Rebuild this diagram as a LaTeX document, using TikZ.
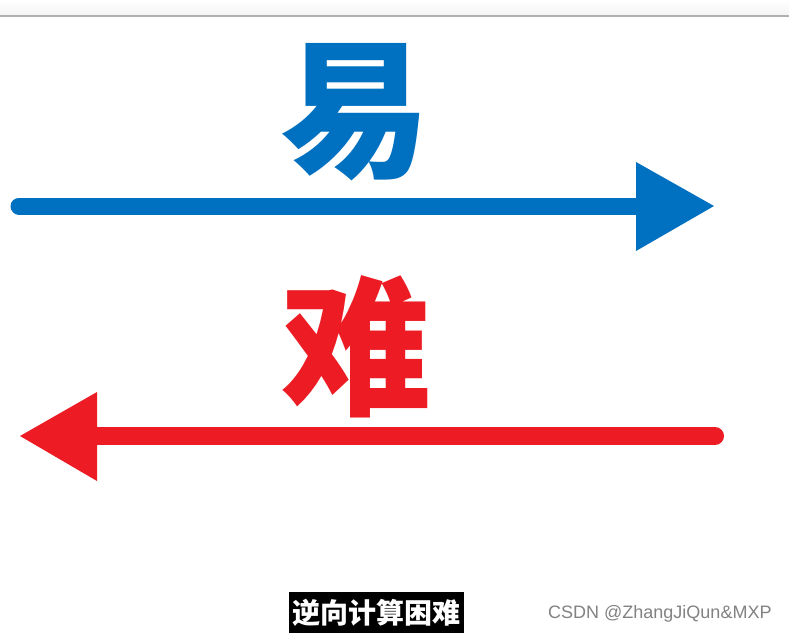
\documentclass[tikz,border=0pt]{standalone}
\usepackage{fontspec}
\newfontfamily\cjk{Noto Sans CJK SC}
\newfontfamily\wm{Liberation Sans}
\definecolor{easyblue}{RGB}{0,112,192}
\definecolor{hardred}{RGB}{237,28,36}
\definecolor{bandgray}{RGB}{244,244,244}
\definecolor{linegray}{RGB}{176,176,176}
\definecolor{wmgray}{RGB}{130,130,130}
\tikzset{
  shaft/.style={line width=#1, line cap=round},
  bigchar/.style={inner sep=0pt, font=\cjk\bfseries\fontsize{150}{150}\selectfont},
  caption/.style={fill=black, text=white, inner xsep=3.5pt, inner ysep=0pt, minimum height=41pt, font=\cjk\bfseries\fontsize{28}{28}\selectfont},
  watermark/.style={inner sep=0pt, text=wmgray, font=\wm\fontsize{18}{18}\selectfont}
}
\begin{document}
\begin{tikzpicture}[x=1pt,y=-1pt]
\useasboundingbox (0,0) rectangle (789,635);
\fill[white] (0,0) rectangle (789,635);
% top band
\shade[top color=white, bottom color=bandgray] (0,0) rectangle (789,15.5);
\draw[linegray, line width=1.5pt] (0,16) -- (789,16);
% easy arrow
\coordinate (bs) at (19,206);
\coordinate (be) at (637,206);
\draw[easyblue, shaft=17pt] (bs) -- (be);
\coordinate (bt1) at (636,162);
\coordinate (btip) at (714,206);
\coordinate (bt2) at (636,251);
\fill[easyblue] (bt1) -- (btip) -- (bt2) -- cycle;
% hard arrow
\coordinate (rs) at (715,436);
\coordinate (re) at (96,436);
\draw[hardred, shaft=18pt] (rs) -- (re);
\coordinate (rt1) at (97,392);
\coordinate (rtip) at (20,436);
\coordinate (rt2) at (97,481);
\fill[hardred] (rt1) -- (rtip) -- (rt2) -- cycle;
% labels
\node[bigchar, text=easyblue] (easy) at (355,112) {易};
\node[bigchar, text=hardred] (hard) at (356,347) {难};
\node[caption] (cap) at (376.5,612.5) {逆向计算困难};
\node[watermark, anchor=west] (wmk) at (548,614) {CSDN @ZhangJiQun\&MXP};
\end{tikzpicture}
\end{document}
